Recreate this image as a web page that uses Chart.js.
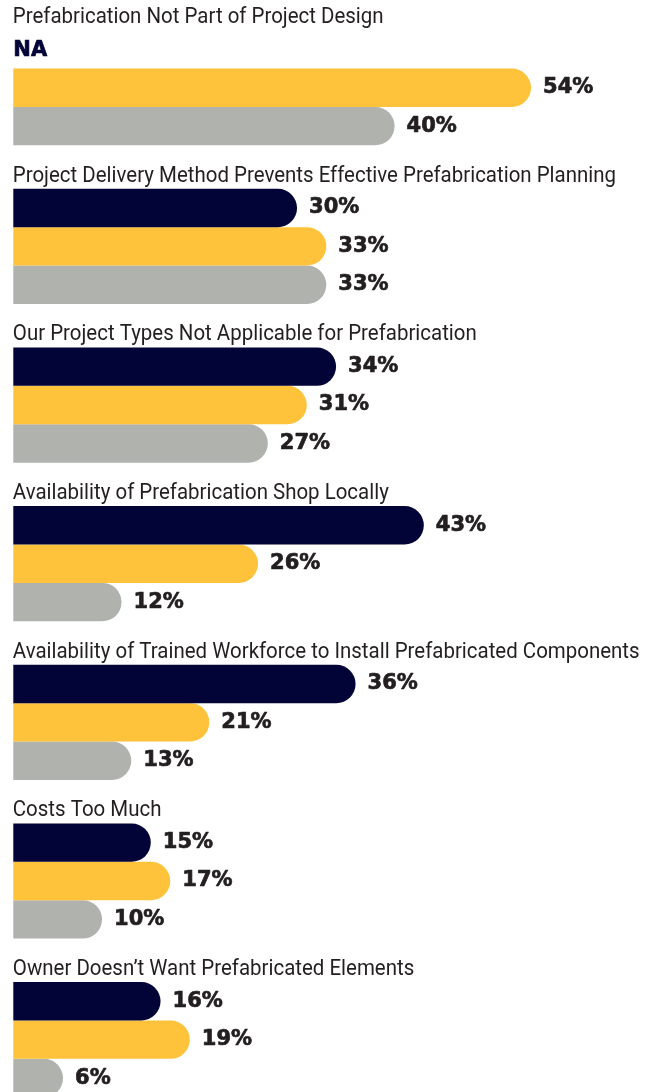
<!DOCTYPE html>
<html>
<head>
<meta charset="utf-8">
<script src="https://cdn.jsdelivr.net/npm/chart.js@4"></script>
<style>
  html, body { margin: 0; padding: 0; background: #ffffff; overflow: hidden; }
  #wrap { position: relative; width: 652px; height: 1120px; }
</style>
</head>
<body>
<div id="wrap"><canvas id="chart"></canvas></div>
<script>
// Barriers to prefabrication, three respondent groups per barrier
const categories = [
  'Prefabrication Not Part of Project Design',
  'Project Delivery Method Prevents Effective Prefabrication Planning',
  'Our Project Types Not Applicable for Prefabrication',
  'Availability of Prefabrication Shop Locally',
  'Availability of Trained Workforce to Install Prefabricated Components',
  'Costs Too Much',
  'Owner Doesn\u2019t Want Prefabricated Elements'
];
const navyValues   = [null, 30, 34, 43, 36, 15, 16];
const yellowValues = [54, 33, 31, 26, 21, 17, 19];
const grayValues   = [40, 33, 27, 12, 13, 10, 6];
const missingLabel = 'NA';

const NAVY = '#020337';
const YELLOW = '#FEC23B';
const GRAY = '#B0B2AD';
const TEXT = '#231F20';

// the source uses a condensed face; squeeze Roboto a bit to get close
const TITLE_FONT = "400 22px Roboto, 'Noto Sans', sans-serif";
const TITLE_SQUEEZE = 0.93;
const VALUE_FONT = "bold 21px 'DejaVu Sans', sans-serif";

// draws the group titles above each block and the value labels after each bar
const labelsPlugin = {
  id: 'groupLabels',
  afterDatasetsDraw(chart) {
    const ctx = chart.ctx;
    const area = chart.chartArea;
    const yScale = chart.scales.y;
    const ref = chart.getDatasetMeta(1).data;

    // titles
    ctx.save();
    ctx.font = TITLE_FONT;
    ctx.fillStyle = TEXT;
    ctx.textAlign = 'left';
    ctx.textBaseline = 'alphabetic';
    categories.forEach((name, i) => {
      const h = ref[i].height;
      const top = yScale.getPixelForValue(i) - 1.5 * h;
      ctx.save();
      ctx.translate(area.left - 0.5, top - 7);
      ctx.scale(TITLE_SQUEEZE, 1);
      ctx.fillText(name, 0, 0);
      ctx.restore();
    });
    ctx.restore();

    // values (a thin stroke makes the bold face read heavier, like the source)
    ctx.save();
    ctx.font = VALUE_FONT;
    ctx.textAlign = 'left';
    ctx.textBaseline = 'middle';
    ctx.lineWidth = 0.7;
    ctx.lineJoin = 'round';
    chart.data.datasets.forEach((ds, di) => {
      const meta = chart.getDatasetMeta(di);
      meta.data.forEach((el, i) => {
        const v = ds.data[i];
        let txt, x, y;
        if (v === null || v === undefined) {
          ctx.fillStyle = ctx.strokeStyle = ds.backgroundColor;
          txt = missingLabel;
          x = area.left;
          y = ref[i].y - ref[i].height + 1;
        } else {
          ctx.fillStyle = ctx.strokeStyle = TEXT;
          txt = v + '%';
          x = el.x + 12;
          y = el.y;
        }
        ctx.fillText(txt, x, y);
        ctx.strokeText(txt, x, y);
      });
    });
    ctx.restore();
  }
};

new Chart(document.getElementById('chart'), {
  type: 'bar',
  data: {
    labels: categories,
    datasets: [
      { data: navyValues,   backgroundColor: NAVY },
      { data: yellowValues, backgroundColor: YELLOW },
      { data: grayValues,   backgroundColor: GRAY }
    ].map(d => Object.assign(d, {
      borderWidth: 0,
      borderRadius: 40,
      borderSkipped: 'start',
      barPercentage: 1.0,
      categoryPercentage: 0.726
    }))
  },
  options: {
    indexAxis: 'y',
    responsive: true,
    maintainAspectRatio: false,
    animation: false,
    layout: { padding: { left: 13.3, right: 0, top: 8.4, bottom: 1 } },
    scales: {
      // bars in the source start a little after zero
      x: { display: false, min: 0.9, max: 66.4 },
      y: { display: false }
    },
    plugins: {
      legend: { display: false },
      tooltip: { enabled: false }
    }
  },
  plugins: [labelsPlugin]
});
</script>
</body>
</html>
